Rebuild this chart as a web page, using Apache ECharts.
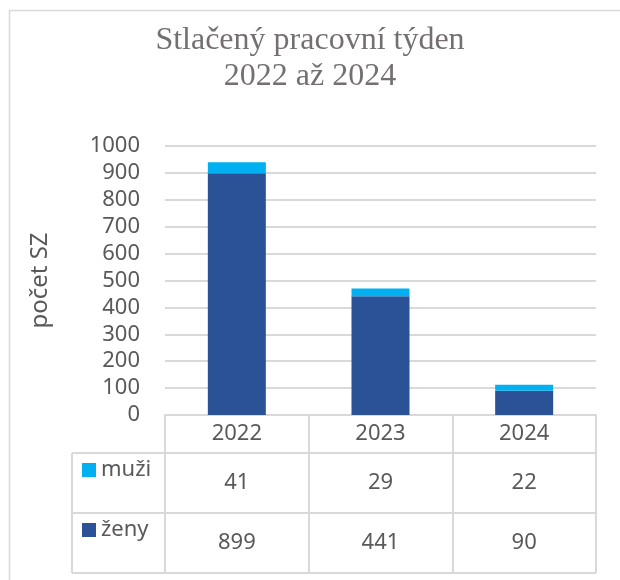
<!DOCTYPE html>
<html lang="cs">
<head>
<meta charset="UTF-8">
<title>Stlačený pracovní týden</title>
<script src="https://cdn.jsdelivr.net/npm/echarts@6/dist/echarts.min.js"></script>
<style>
  html, body { margin: 0; height: 100%; background: #fff; }
  #main { width: 620px; height: 580px; }
</style>
</head>
<body>
<div id="main"></div>
<script>
// data
var years = ['2022', '2023', '2024'];
var muzi = [41, 29, 22];
var zeny = [899, 441, 90];
var seriesNames = ['muži', 'ženy'];

var chart = echarts.init(document.getElementById('main'));
var gridColor = '#d9d9d9';
var textColor = '#595959';
var font = 'Noto Sans';

// table geometry (below the plot area)
var tableLeft = 72, tableRight = 596;
var rowTop = [453, 513];   // muži row, ženy row
var rowH = 60;

var option = {
  animation: false,
  title: {
    text: 'Stlačený pracovní týden\n2022 až 2024',
    left: 'center',
    top: 18,
    textStyle: {
      fontFamily: 'Liberation Serif',
      fontWeight: 'normal',
      fontSize: 32,
      lineHeight: 36,
      color: '#757070'
    }
  },
  legend: {
    data: seriesNames,
    orient: 'vertical',
    left: 82,
    top: 459,
    padding: 0,
    itemWidth: 14,
    itemHeight: 14,
    itemGap: 38,
    itemTextGap: 4,
    icon: 'rect',
    selectedMode: false,
    textStyle: { fontFamily: font, fontSize: 22, color: textColor }
  },
  grid: { left: 165, right: 24, top: 146, bottom: 165 },
  xAxis: {
    type: 'category',
    data: years,
    axisLine: { lineStyle: { color: gridColor, width: 2 } },
    axisTick: { show: true, length: 158, lineStyle: { color: gridColor, width: 2 } },
    axisLabel: { fontFamily: font, fontSize: 22, color: textColor, margin: 8 }
  },
  yAxis: {
    type: 'value',
    min: 0,
    max: 1000,
    interval: 100,
    name: 'počet SZ',
    nameLocation: 'middle',
    nameRotate: 90,
    nameGap: 113,
    nameTextStyle: { fontFamily: font, fontSize: 24, color: textColor },
    axisLabel: {
      fontFamily: font, fontSize: 22, color: textColor, margin: 25,
      formatter: function (v) { return String(v); }
    },
    axisLine: { show: false },
    axisTick: { show: false },
    splitLine: { lineStyle: { color: gridColor, width: 2 } }
  },
  series: [
    { name: 'ženy', type: 'bar', stack: 'sz', data: zeny, barWidth: 58, itemStyle: { color: '#2b5296' } },
    { name: 'muži', type: 'bar', stack: 'sz', data: muzi, barWidth: 58, itemStyle: { color: '#00b0f0' } }
  ]
};
chart.setOption(option);

// data table: lines and values
var g = [];
g.push({ type: 'rect', shape: { x: 9.5, y: 10.5, width: 800, height: 800 },
  style: { fill: 'none', stroke: gridColor, lineWidth: 1.5 }, z: -1 });
[rowTop[0], rowTop[1], rowTop[1] + rowH].forEach(function (y) {
  g.push({ type: 'line', shape: { x1: tableLeft, y1: y, x2: tableRight, y2: y },
    style: { stroke: gridColor, lineWidth: 2 } });
});
g.push({ type: 'line', shape: { x1: tableLeft, y1: rowTop[0], x2: tableLeft, y2: rowTop[1] + rowH },
  style: { stroke: gridColor, lineWidth: 2 } });
var rows = [muzi, zeny];
rows.forEach(function (vals, r) {
  vals.forEach(function (v, i) {
    var x = chart.convertToPixel({ xAxisIndex: 0 }, years[i]);
    g.push({ type: 'text', x: x, y: rowTop[r] + rowH / 2,
      style: { text: String(v), fill: textColor, font: '22px "' + font + '"', align: 'center', verticalAlign: 'middle' } });
  });
});
chart.setOption({ graphic: g });
</script>
</body>
</html>
